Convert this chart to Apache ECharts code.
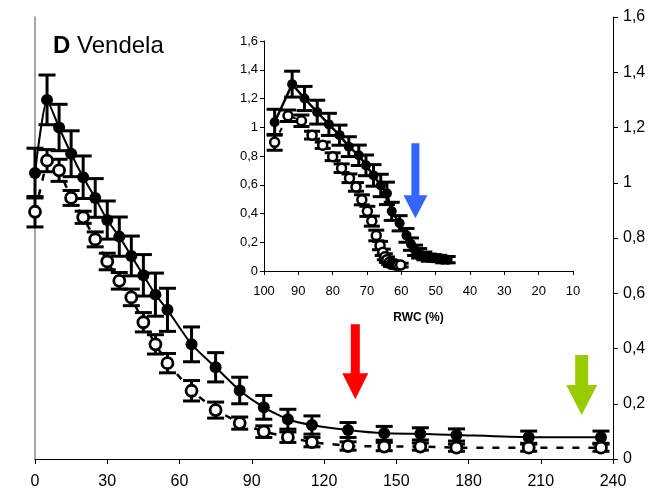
<!DOCTYPE html>
<html>
<head>
<meta charset="utf-8">
<script src="https://cdn.jsdelivr.net/npm/echarts@6/dist/echarts.min.js"></script>
<style>
html, body { margin: 0; padding: 0; background: #fff; }
#chart { width: 658px; height: 493px; }
</style>
</head>
<body>
<div id="chart"></div>
<script>
// time (min) of each measurement
var minutes = [0, 5, 10, 15, 20, 25, 30, 35, 40, 45, 50, 55, 65, 75, 85, 95, 105, 115, 130, 145, 160, 175, 205, 235];
// filled circles (solid line)
var filledVals = [1.035, 1.30, 1.20, 1.105, 1.02, 0.945, 0.865, 0.805, 0.735, 0.665, 0.595, 0.54, 0.415, 0.332, 0.248, 0.187, 0.144, 0.123, 0.105, 0.093, 0.091, 0.087, 0.079, 0.079];
var filledErr = [0.09, 0.09, 0.084, 0.083, 0.077, 0.07, 0.069, 0.071, 0.072, 0.075, 0.078, 0.078, 0.063, 0.053, 0.048, 0.043, 0.036, 0.033, 0.027, 0.025, 0.022, 0.022, 0.022, 0.022];
// open circles (dashed line)
var openVals = [0.895, 1.08, 1.045, 0.945, 0.875, 0.795, 0.715, 0.645, 0.585, 0.495, 0.415, 0.347, 0.247, 0.177, 0.13, 0.099, 0.079, 0.061, 0.047, 0.045, 0.045, 0.041, 0.041, 0.041];
var openErr = [0.055, 0.04, 0.04, 0.027, 0.022, 0.027, 0.03, 0.03, 0.03, 0.035, 0.035, 0.035, 0.037, 0.029, 0.022, 0.021, 0.019, 0.017, 0.015, 0.015, 0.013, 0.013, 0.013, 0.013];
// inset: RWC (%) of the same measurements
var rwcFilled = [96.9, 91.8, 88.2, 84.5, 81.1, 78.0, 75.3, 72.4, 70.3, 68.1, 66.0, 64.2, 62.8, 60.5, 58.5, 57.2, 56.0, 54.8, 53.3, 52.0, 50.5, 49.0, 47.8, 46.5];
var rwcOpen = [96.9, 93.0, 89.1, 86.0, 82.9, 80.0, 77.4, 75.1, 73.2, 71.5, 69.9, 68.6, 67.3, 66.2, 65.4, 64.8, 64.2, 63.5, 63.0, 62.5, 62.0, 61.5, 61.0, 60.2];
// arrows: grid, x, y of tip, colour
var arrowGrid = [0, 0, 1];
var arrowX = [133, 227, 55.9];
var arrowY = [0.216, 0.159, 0.367];
var arrowColor = ['#ff0000', '#99cc00', '#3366ff'];

var FONT = 'Liberation Sans, Arial, sans-serif';

function pairs(xs, ys, es) {
  return xs.map(function (x, i) { return [x, ys[i], es[i]]; });
}

function comma(v) { return String(v).replace('.', ','); }

function errorBars(capW, lw) {
  return function (params, api) {
    var x = api.value(0), y = api.value(1), e = api.value(2);
    var hi = api.coord([x, y + e]);
    var lo = api.coord([x, y - e]);
    var st = { stroke: '#000', lineWidth: lw };
    return {
      type: 'group',
      children: [
        { type: 'line', shape: { x1: hi[0], y1: hi[1], x2: lo[0], y2: lo[1] }, style: st },
        { type: 'line', shape: { x1: hi[0] - capW / 2, y1: hi[1], x2: hi[0] + capW / 2, y2: hi[1] }, style: st },
        { type: 'line', shape: { x1: lo[0] - capW / 2, y1: lo[1], x2: lo[0] + capW / 2, y2: lo[1] }, style: st }
      ]
    };
  };
}

var chart = echarts.init(document.getElementById('chart'));

var axisBlack = { lineStyle: { color: '#000', width: 1 } };

var option = {
  animation: false,
  grid: [
    { left: 35, right: 45, top: 17, bottom: 34, outerBoundsMode: 'none' },
    { left: 264, top: 41, width: 309, height: 230, outerBoundsMode: 'none' }
  ],
  xAxis: [
    {
      gridIndex: 0, type: 'value', min: 0, max: 240, interval: 30,
      axisLine: axisBlack,
      axisTick: { inside: false, length: 5, lineStyle: { color: '#000' } },
      axisLabel: { fontSize: 16, margin: 15, color: '#000', fontFamily: FONT },
      splitLine: { show: false }
    },
    {
      gridIndex: 1, type: 'value', min: 10, max: 100, interval: 10, inverse: true,
      name: 'RWC (%)', nameLocation: 'middle', nameGap: 41,
      nameTextStyle: { fontSize: 12, fontWeight: 'bold', color: '#000', fontFamily: FONT },
      axisLine: axisBlack,
      axisTick: { inside: false, length: 4, lineStyle: { color: '#000' } },
      axisLabel: { fontSize: 13, margin: 14, color: '#000', fontFamily: FONT },
      splitLine: { show: false }
    }
  ],
  yAxis: [
    {
      gridIndex: 0, type: 'value', position: 'right', min: 0, max: 1.6, interval: 0.2,
      axisLine: { show: true, onZero: false, lineStyle: { color: '#000', width: 1 } },
      axisTick: { show: true, inside: false, length: 5, lineStyle: { color: '#000' } },
      axisLabel: { fontSize: 16, margin: 10, color: '#000', fontFamily: FONT, formatter: comma },
      splitLine: { show: false }
    },
    {
      gridIndex: 0, type: 'value', position: 'left', min: 0, max: 1.6,
      axisLine: { show: true, onZero: false, lineStyle: { color: '#888', width: 1.5 } },
      axisTick: { show: false }, axisLabel: { show: false }, splitLine: { show: false }
    },
    {
      gridIndex: 1, type: 'value', min: 0, max: 1.6, interval: 0.2,
      axisLine: { show: true, onZero: false, lineStyle: { color: '#000', width: 1 } },
      axisTick: { show: true, inside: false, length: 4, lineStyle: { color: '#000' } },
      axisLabel: { fontSize: 13, margin: 6, color: '#000', fontFamily: FONT, formatter: comma },
      splitLine: { show: false }
    }
  ],
  series: [
    // main chart
    {
      type: 'custom', xAxisIndex: 0, yAxisIndex: 0, z: 2,
      renderItem: errorBars(17, 3), data: pairs(minutes, openVals, openErr)
    },
    {
      type: 'custom', xAxisIndex: 0, yAxisIndex: 0, z: 2,
      renderItem: errorBars(17, 3), data: pairs(minutes, filledVals, filledErr)
    },
    {
      type: 'line', xAxisIndex: 0, yAxisIndex: 0, z: 3, clip: false,
      data: pairs(minutes, openVals, openErr),
      lineStyle: { color: '#000', width: 2.5, type: [7, 9] },
      symbol: 'circle', symbolSize: 11,
      itemStyle: { color: '#fff', borderColor: '#000', borderWidth: 2.8 }
    },
    {
      type: 'line', xAxisIndex: 0, yAxisIndex: 0, z: 4, clip: false, smooth: 0.2,
      data: pairs(minutes, filledVals, filledErr),
      lineStyle: { color: '#000', width: 2 },
      symbol: 'circle', symbolSize: 12,
      itemStyle: { color: '#000', borderWidth: 0 }
    },
    // inset
    {
      type: 'custom', xAxisIndex: 1, yAxisIndex: 2, z: 2,
      renderItem: errorBars(16, 3), data: pairs(rwcOpen, openVals, openErr)
    },
    {
      type: 'custom', xAxisIndex: 1, yAxisIndex: 2, z: 2,
      renderItem: errorBars(16, 3), data: pairs(rwcFilled, filledVals, filledErr)
    },
    {
      type: 'line', xAxisIndex: 1, yAxisIndex: 2, z: 3, clip: false,
      data: pairs(rwcOpen, openVals, openErr),
      lineStyle: { color: '#000', width: 2, type: [5, 6] },
      symbol: 'circle', symbolSize: 9,
      itemStyle: { color: '#fff', borderColor: '#000', borderWidth: 2.5 }
    },
    {
      type: 'line', xAxisIndex: 1, yAxisIndex: 2, z: 4, clip: false,
      data: pairs(rwcFilled, filledVals, filledErr),
      lineStyle: { color: '#000', width: 2.5 },
      symbol: 'circle', symbolSize: 10,
      itemStyle: { color: '#000', borderWidth: 0 }
    }
  ]
};

chart.setOption(option);

// arrows and the panel label
var arrowSize = [
  { shaftW: 9, shaftL: 49, headW: 26, headL: 26 },
  { shaftW: 13, shaftL: 30, headW: 31, headL: 30 },
  { shaftW: 8, shaftL: 52, headW: 24, headL: 23 }
];
var graphics = [{
  type: 'text', left: 53, top: 34, z: 10,
  style: {
    text: '{b|D} Vendela', fill: '#000', fontSize: 24, fontFamily: FONT,
    rich: { b: { fontWeight: 'bold', fontSize: 24, fontFamily: FONT } }
  }
}];
arrowX.forEach(function (x, i) {
  var tip = chart.convertToPixel({ gridIndex: arrowGrid[i] }, [x, arrowY[i]]);
  var s = arrowSize[i];
  var hy = tip[1] - s.headL, ty = hy - s.shaftL, cx = tip[0];
  graphics.push({
    type: 'polygon', z: 10,
    shape: { points: [
      [cx - s.shaftW / 2, ty], [cx + s.shaftW / 2, ty], [cx + s.shaftW / 2, hy],
      [cx + s.headW / 2, hy], [cx, tip[1]], [cx - s.headW / 2, hy], [cx - s.shaftW / 2, hy]
    ] },
    style: { fill: arrowColor[i] }
  });
});
chart.setOption({ graphic: graphics });
</script>
</body>
</html>
